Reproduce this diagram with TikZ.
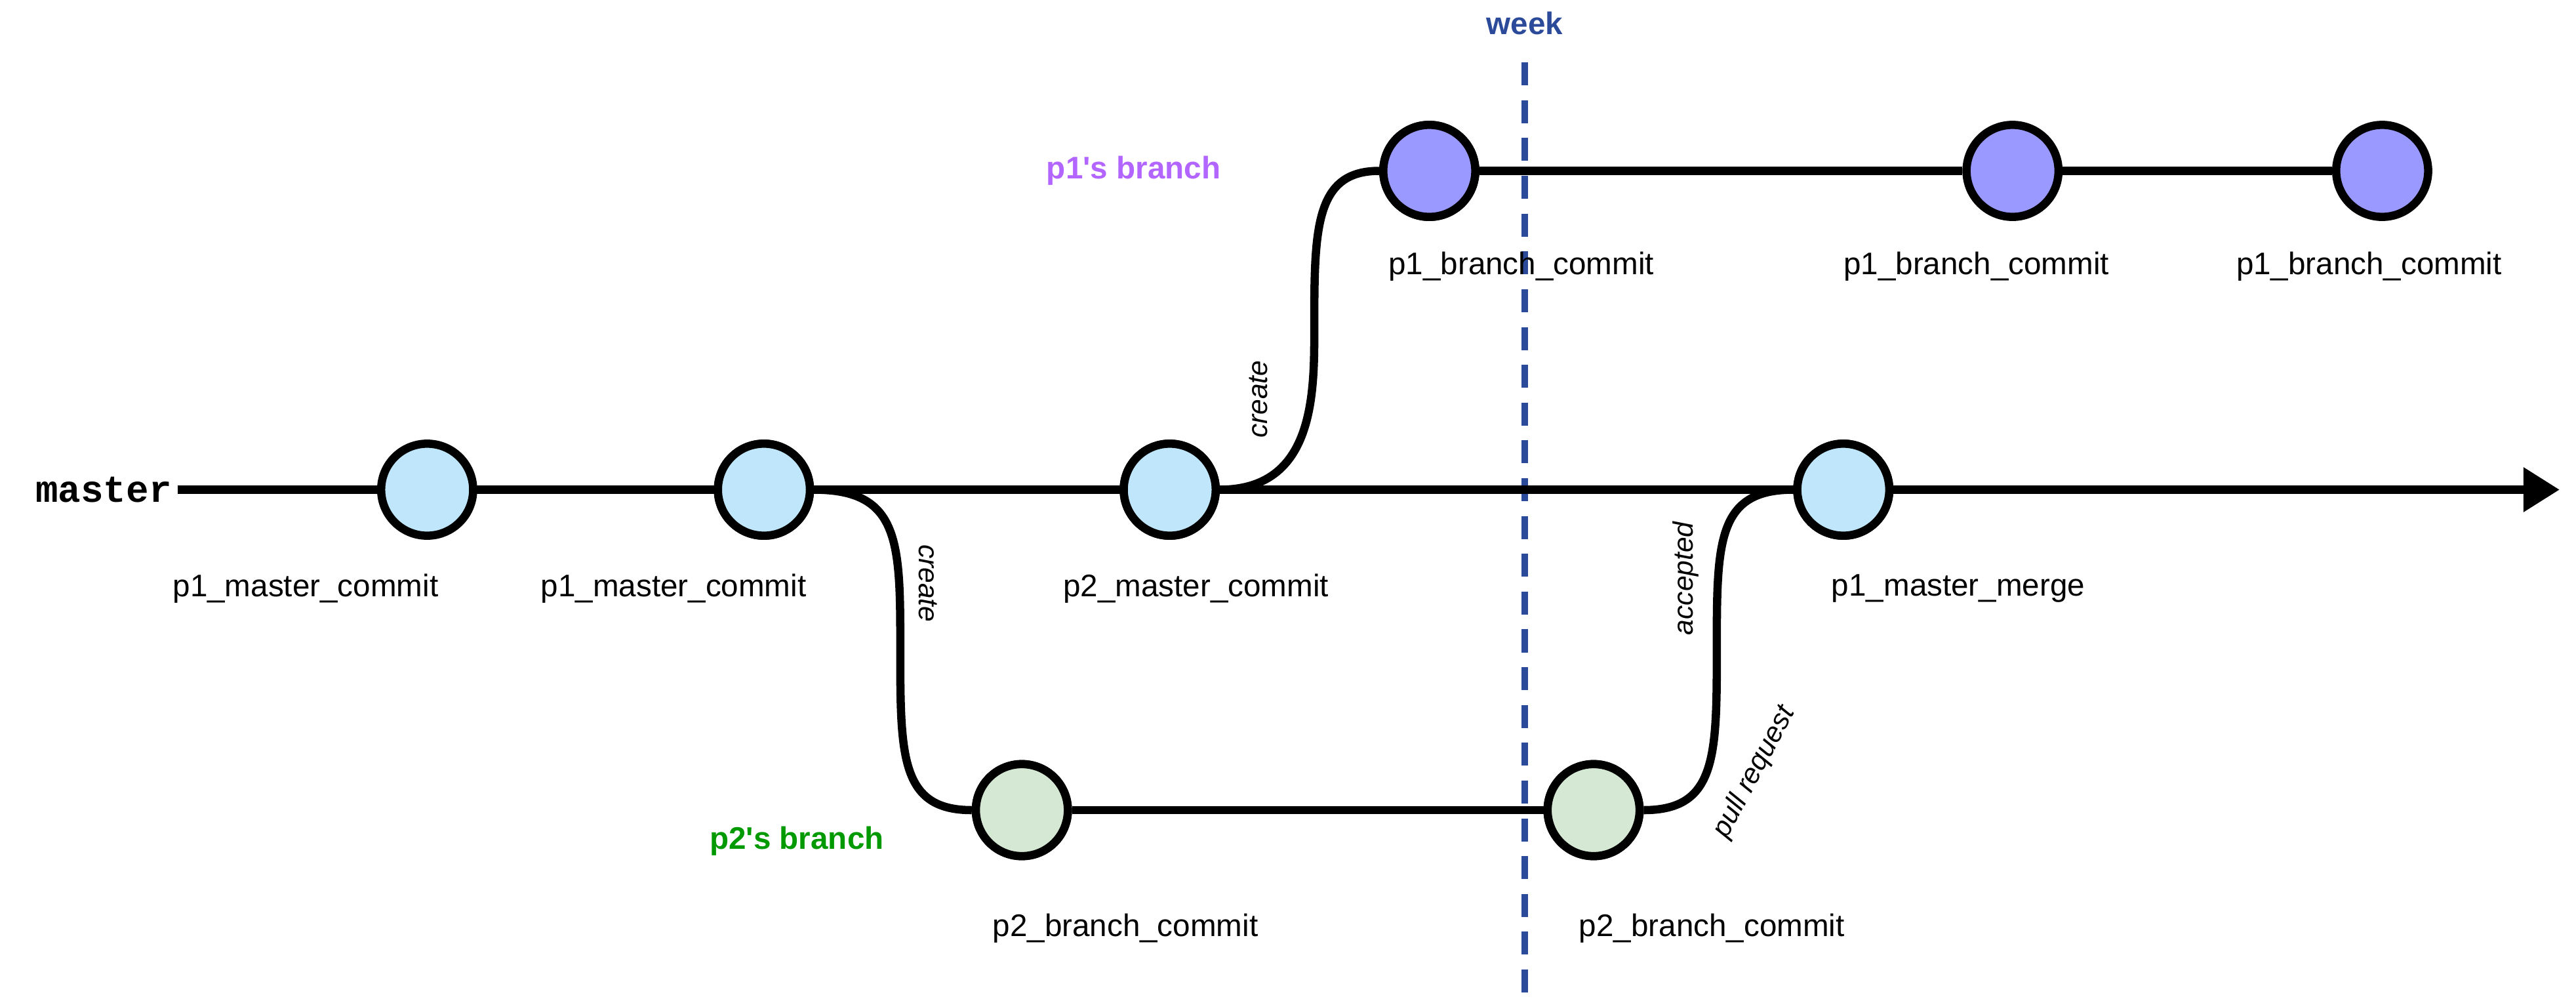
\documentclass[tikz,border=0pt]{standalone}
\usepackage{fontspec}
\setmainfont{Liberation Sans}
\newfontfamily\monof{Liberation Mono}
\usetikzlibrary{arrows.meta}
\definecolor{mblue}{HTML}{BFE6FA}
\definecolor{ppurple}{HTML}{9999FF}
\definecolor{pgreen}{HTML}{D5E8D4}
\definecolor{wblue}{HTML}{2B4A9A}
\definecolor{lpurple}{HTML}{B266FF}
\definecolor{lgreen}{HTML}{009900}
\begin{document}
\begin{tikzpicture}[x=1pt,y=-1pt,
  commit/.style={circle,draw=black,line width=5pt,minimum size=56pt,inner sep=0pt},
  mc/.style={commit,fill=mblue},
  pc/.style={commit,fill=ppurple},
  gc/.style={commit,fill=pgreen},
  lab/.style={font=\fontsize{19}{22}\selectfont},
  edge/.style={line width=5pt},
  blab/.style={font=\bfseries\fontsize{19}{22}\selectfont},
  elab/.style={font=\itshape\fontsize{17}{20}\selectfont}]
\useasboundingbox (0,0) rectangle (1568,609);
% week line
\coordinate (wt) at (928,38);
\coordinate (wb) at (928,609);
\draw[wblue,line width=4pt,dash pattern=on 14pt off 9pt] (wt) -- (wb);
\node[blab,text=wblue] (week) at (928,14) {week};
% master
\node[font=\monof\bfseries\fontsize{23}{26}\selectfont,anchor=east] (master) at (108,298) {master};
\coordinate (mend) at (1558,298);
\draw[edge,-{Triangle[length=22pt,width=26pt]}] (master.east) -- (mend);
\node[mc] (m1) at (260,298) {};
\node[mc] (m2) at (465,298) {};
\node[mc] (m3) at (712,298) {};
\node[mc] (m4) at (1122,298) {};
\node[pc] (p1) at (870,104) {};
\node[pc] (p2) at (1225,104) {};
\node[pc] (p3) at (1450,104) {};
\node[gc] (g1) at (622,493) {};
\node[gc] (g2) at (970,493) {};
% branch edges
\draw[edge] (p1) -- (p2) -- (p3);
\draw[edge] (g1) -- (g2);
\draw[edge] (m3.east) .. controls (800,298) and (800,240) .. (800,200) .. controls (800,140) and (800,104) .. (p1.west);
\draw[edge] (m2.east) .. controls (548,298) and (548,330) .. (548,395) .. controls (548,460) and (548,493) .. (g1.west);
\draw[edge] (g2.east) .. controls (1045,493) and (1045,460) .. (1045,395) .. controls (1045,330) and (1045,298) .. (m4.west);
% redraw nodes on top
\node[mc] at (m3) {};\node[mc] at (m2) {};\node[mc] at (m4) {};
\node[pc] at (p1) {};\node[gc] at (g1) {};\node[gc] at (g2) {};
% edge labels
\node[elab,rotate=90] (c1) at (766,243) {create};
\node[elab,rotate=-90] (c2) at (565,355) {create};
\node[elab,rotate=90] (ac) at (1026,352) {accepted};
\node[elab,rotate=62] (pr) at (1068,470) {pull request};
% branch labels
\node[blab,text=lpurple] (pl) at (690,104) {p1\textquotesingle s branch};
\node[blab,text=lgreen] (gl) at (485,512) {p2\textquotesingle s branch};
% commit labels
\node[lab] at (186,358) {p1\_master\_commit};
\node[lab] at (410,358) {p1\_master\_commit};
\node[lab] at (728,358) {p2\_master\_commit};
\node[lab] at (1192,358) {p1\_master\_merge};
\node[lab] at (926,162) {p1\_branch\_commit};
\node[lab] at (1203,162) {p1\_branch\_commit};
\node[lab] at (1442,162) {p1\_branch\_commit};
\node[lab] at (685,565) {p2\_branch\_commit};
\node[lab] at (1042,565) {p2\_branch\_commit};
\end{tikzpicture}
\end{document}
